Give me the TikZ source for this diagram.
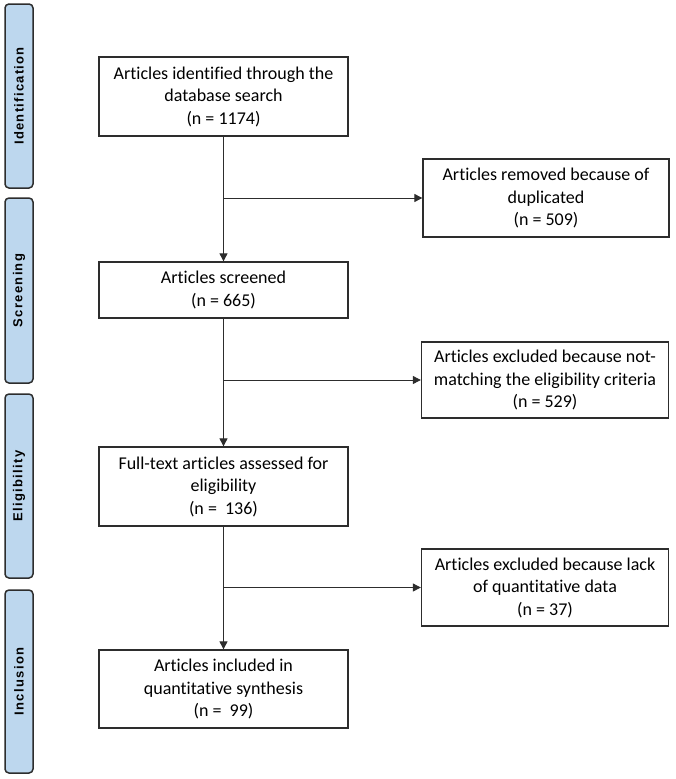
\documentclass[tikz,border=0pt]{standalone}
\usepackage{fontspec}
\setmainfont[Ligatures={NoCommon}]{Carlito}
\newfontfamily\phasefont[LetterSpace=10]{Liberation Sans}
\usepackage{tikz}
\usetikzlibrary{arrows.meta}
\definecolor{phaseblue}{RGB}{189,215,238}
\definecolor{linegray}{RGB}{45,45,45}

\tikzset{
  phase/.style={draw=linegray, line width=1.5pt, fill=phaseblue, rounded corners=4pt,
    minimum height=28pt, inner sep=0pt, rotate=90,
    font=\phasefont\bfseries\fontsize{13}{15}\selectfont},
  box/.style={draw=linegray, line width=1.3pt, align=center, inner sep=0pt,
    font=\fontsize{18}{22.5}\selectfont},
  flow/.style={draw=linegray, line width=0.9pt, -{Triangle[length=8pt,width=8pt]}}
}

\begin{document}
\begin{tikzpicture}[x=1pt, y=-1pt]

    \useasboundingbox (0,0) rectangle (676,779);

    % phases on the left
    \node[phase, minimum width=184pt] (ident) at (19, 96)    {Identification};
    \node[phase, minimum width=185pt] (scree) at (19, 290.5) {Screening};
    \node[phase, minimum width=184pt] (elig)  at (19, 486)   {Eligibility};
    \node[phase, minimum width=183pt] (incl)  at (19, 681.5) {Inclusion};

    % main column
    \node[box, minimum width=249pt, minimum height=79pt] (a) at (223.5, 96.5)
        {Articles identified through the\\database search\\(n = 1174)};
    \node[box, minimum width=249pt, minimum height=56pt] (b) at (223.5, 290)
        {Articles screened\\(n = 665)};
    \node[box, minimum width=249pt, minimum height=79pt] (c) at (223.5, 486.5)
        {Full-text articles assessed for\\eligibility\\(n = \ 136)};
    \node[box, minimum width=249pt, minimum height=78pt] (d) at (223.5, 689)
        {Articles included in\\quantitative synthesis\\(n = \ 99)};

    % side column
    \node[box, minimum width=246pt, minimum height=78pt] (e) at (546, 198)
        {Articles removed because of\\duplicated\\(n = 509)};
    \node[box, minimum width=247pt, minimum height=76pt] (f) at (545, 380)
        {Articles excluded because not-\\matching the eligibility criteria\\(n = 529)};
    \node[box, minimum width=247pt, minimum height=77pt] (g) at (545, 587.5)
        {Articles excluded because lack\\of quantitative data\\(n = 37)};

    \coordinate (ae) at (a.south |- e.west);
    \coordinate (bf) at (b.south |- f.west);
    \coordinate (cg) at (c.south |- g.west);

    \draw[flow] (a) -- (b);
    \draw[flow] (b) -- (c);
    \draw[flow] (c) -- (d);
    \draw[flow] (ae) -- (e);
    \draw[flow] (bf) -- (f);
    \draw[flow] (cg) -- (g);

\end{tikzpicture}
\end{document}
